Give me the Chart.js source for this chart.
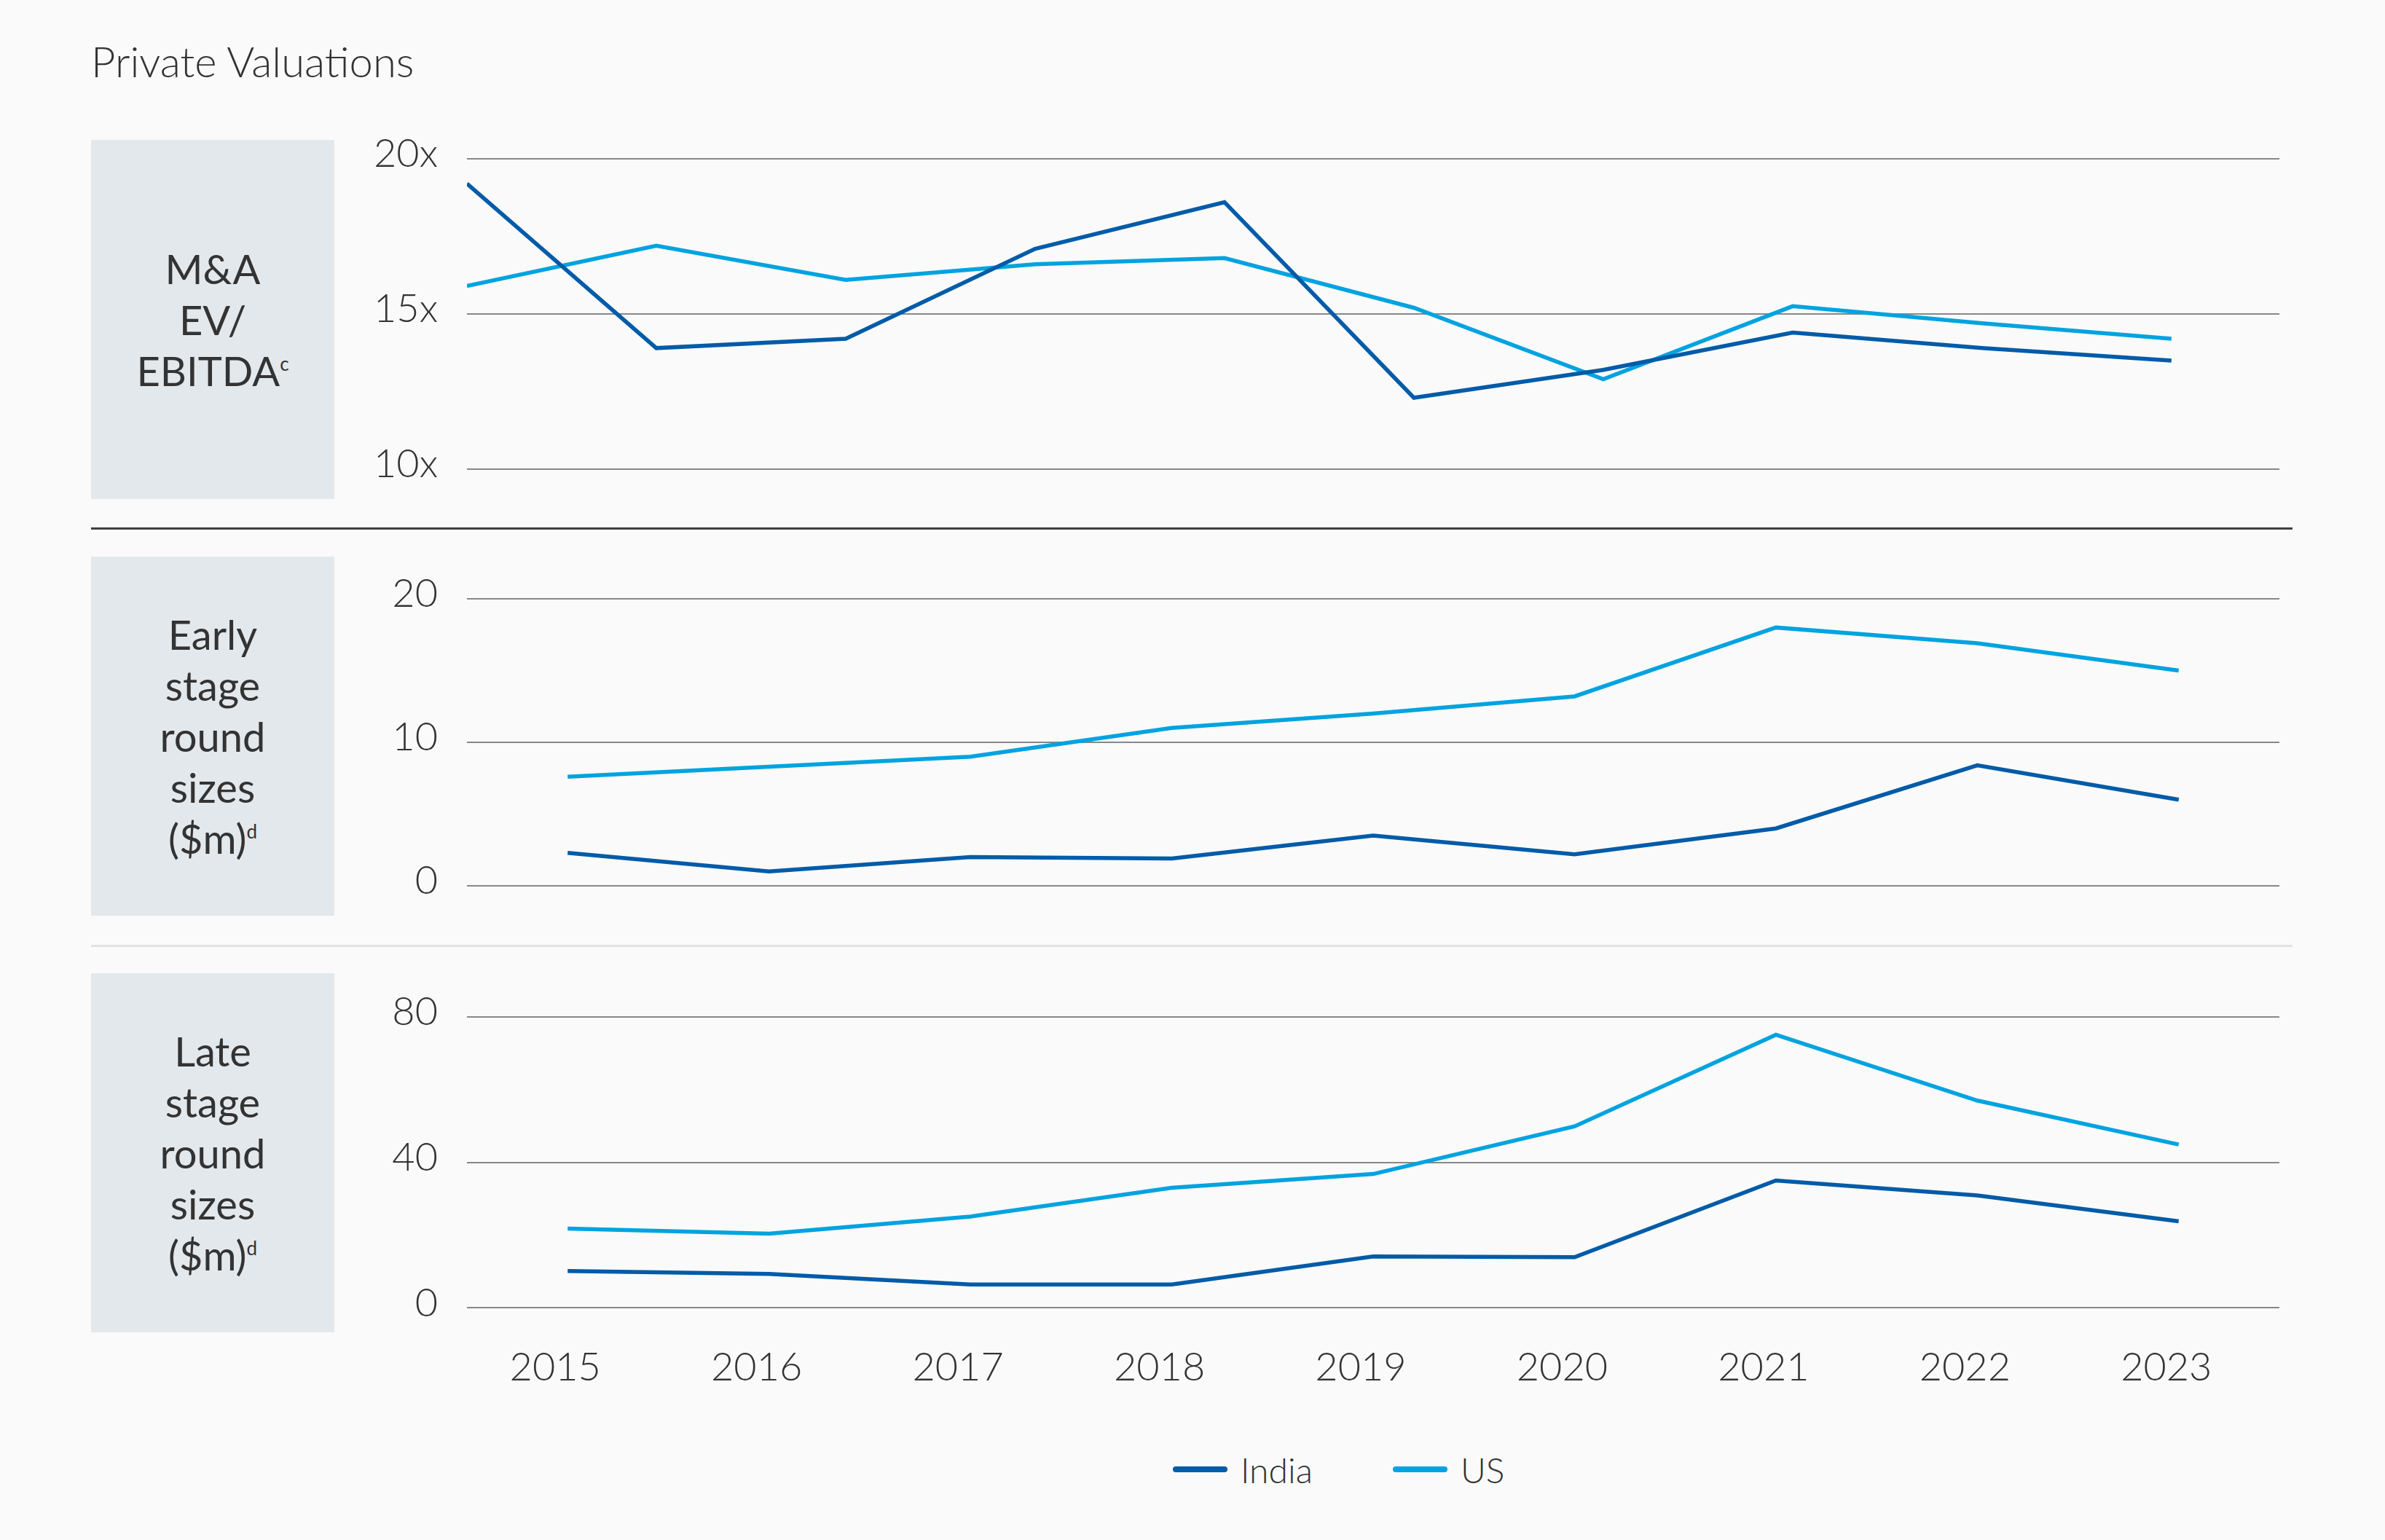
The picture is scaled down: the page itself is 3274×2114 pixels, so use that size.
<!DOCTYPE html>
<html>
<head>
<meta charset="utf-8">
<title>Private Valuations</title>
<script src="https://cdn.jsdelivr.net/npm/chart.js@4.4.1/dist/chart.umd.min.js"></script>
<style>
  html, body { margin: 0; padding: 0; }
  body {
    width: 3274px; height: 2114px; position: relative; overflow: hidden;
    background: #fafafa; color: #333; font-family: Lato, "Open Sans", sans-serif;
  }
  .title { position: absolute; left: 125px; top: 55px; font-size: 58px; line-height: 58px; font-weight: 300; }
  .box {
    position: absolute; left: 125px; width: 334px; height: 493px; background: #e3e8ec;
    display: flex; align-items: center; justify-content: center; text-align: center;
    font-size: 56px; line-height: 70px; font-weight: 400;
  }
  .box sup { font-size: 26px; line-height: 0; vertical-align: baseline; position: relative; top: -21px; }
  .rule { position: absolute; left: 125px; width: 3022px; height: 3px; }
  canvas { position: absolute; left: 480px; }
  .legend { position: absolute; left: 1610px; top: 1989px; height: 56px; display: flex; align-items: center; font-size: 48px; font-weight: 300; }
  .legend .sw { width: 75px; height: 8px; border-radius: 4px; margin-right: 18px; }
  .legend .item { display: flex; align-items: center; }
  .legend .item + .item { margin-left: 110px; }
</style>
</head>
<body>
<div class="title">Private Valuations</div>

<div class="box" style="top:192px"><div>M&amp;A<br>EV/<br>EBITDA<sup>c</sup></div></div>
<div class="box" style="top:764px"><div>Early<br>stage<br>round<br>sizes<br>($m)<sup>d</sup></div></div>
<div class="box" style="top:1336px"><div>Late<br>stage<br>round<br>sizes<br>($m)<sup>d</sup></div></div>

<div class="rule" style="top:724px; background:#404040"></div>
<div class="rule" style="top:1297px; background:#e2e2e2"></div>

<canvas id="maChart" width="2700" height="586" style="top:138px"></canvas>
<canvas id="earlyChart" width="2700" height="556" style="top:740px"></canvas>
<canvas id="lateChart" width="2700" height="646" style="top:1314px"></canvas>

<div class="legend">
  <div class="item"><div class="sw" style="background:#005ba8"></div>India</div>
  <div class="item"><div class="sw" style="background:#00a3e0"></div>US</div>
</div>

<script>
// Données
var years = ['2015', '2016', '2017', '2018', '2019', '2020', '2021', '2022', '2023'];

// M&A EV/EBITDA (10 points, axe x masqué)
var maIndia = [19.2, 13.9, 14.2, 17.1, 18.6, 12.3, 13.2, 14.4, 13.9, 13.5];
var maUS = [15.9, 17.2, 16.1, 16.6, 16.8, 15.2, 12.9, 15.25, 14.7, 14.2];
var maTicks = [10, 15, 20];
var maTickLabels = ['10x', '15x', '20x'];

// Early stage round sizes ($m)
var earlyIndia = [2.3, 1.0, 2.0, 1.9, 3.5, 2.2, 4.0, 8.4, 6.0];
var earlyUS = [7.6, 8.3, 9.0, 11.0, 12.0, 13.2, 18.0, 16.9, 15.0];
var earlyTicks = [0, 10, 20];

// Late stage round sizes ($m)
var lateIndia = [10.1, 9.3, 6.4, 6.4, 14.1, 13.9, 35.0, 30.9, 23.8];
var lateUS = [21.8, 20.4, 25.1, 33.0, 36.8, 49.9, 75.1, 57.0, 44.9];
var lateTicks = [0, 40, 80];

var seriesNames = ['India', 'US'];
var INDIA = '#005ba8';
var US = '#00a3e0';

Chart.defaults.font.family = 'Lato, "Open Sans", sans-serif';
Chart.defaults.color = '#333';

function ds(label, data, color) {
    return {
        label: label,
        data: data,
        borderColor: color,
        backgroundColor: color,
        borderWidth: 5.5,
        pointRadius: 0,
        tension: 0,
        fill: false,
        borderJoinStyle: 'miter'
    };
}

// Axe y commun : ticks fixes, largeur fixe
function yAxis(min, max, ticks, labels) {
    return {
        min: min,
        max: max,
        afterBuildTicks: function (axis) {
            axis.ticks = ticks.map(function (v) { return { value: v }; });
        },
        afterFit: function (axis) { axis.width = 161; },
        border: { display: false },
        grid: { color: '#888', lineWidth: 2, drawTicks: false },
        ticks: {
            padding: 40,
            labelOffset: -6,
            font: { size: 54, weight: 300 },
            color: '#333',
            callback: function (v, i) { return labels ? labels[i] : String(v); }
        }
    };
}

function baseOptions(padding) {
    return {
        responsive: false,
        animation: false,
        layout: { padding: padding },
        plugins: { legend: { display: false }, tooltip: { enabled: false } }
    };
}

// Panneau 1 : M&A
var maOpts = baseOptions({ top: 80, bottom: 80, left: 0, right: 51 });
maOpts.scales = {
    x: { type: 'linear', display: false, min: 0, max: 9.57 },
    y: yAxis(10, 20, maTicks, maTickLabels)
};
new Chart(document.getElementById('maChart'), {
    type: 'line',
    data: {
        datasets: [
            ds(seriesNames[0], maIndia.map(function (v, i) { return { x: i, y: v }; }), INDIA),
            ds(seriesNames[1], maUS.map(function (v, i) { return { x: i, y: v }; }), US)
        ]
    },
    options: maOpts
});

// Panneau 2 : early stage
var earlyOpts = baseOptions({ top: 82, bottom: 80, left: 0, right: 51 });
earlyOpts.scales = {
    x: { display: false, offset: true },
    y: yAxis(0, 20, earlyTicks)
};
new Chart(document.getElementById('earlyChart'), {
    type: 'line',
    data: {
        labels: years,
        datasets: [ds(seriesNames[0], earlyIndia, INDIA), ds(seriesNames[1], earlyUS, US)]
    },
    options: earlyOpts
});

// Panneau 3 : late stage + années
var lateOpts = baseOptions({ top: 82, bottom: 0, left: 0, right: 51 });
lateOpts.scales = {
    x: {
        offset: true,
        border: { display: false },
        grid: { display: false, drawTicks: false },
        ticks: { padding: 50, labelOffset: -17, font: { size: 54, weight: 300 }, color: '#333', maxRotation: 0 }
    },
    y: yAxis(0, 80, lateTicks)
};
new Chart(document.getElementById('lateChart'), {
    type: 'line',
    data: {
        labels: years,
        datasets: [ds(seriesNames[0], lateIndia, INDIA), ds(seriesNames[1], lateUS, US)]
    },
    options: lateOpts
});
</script>
</body>
</html>
